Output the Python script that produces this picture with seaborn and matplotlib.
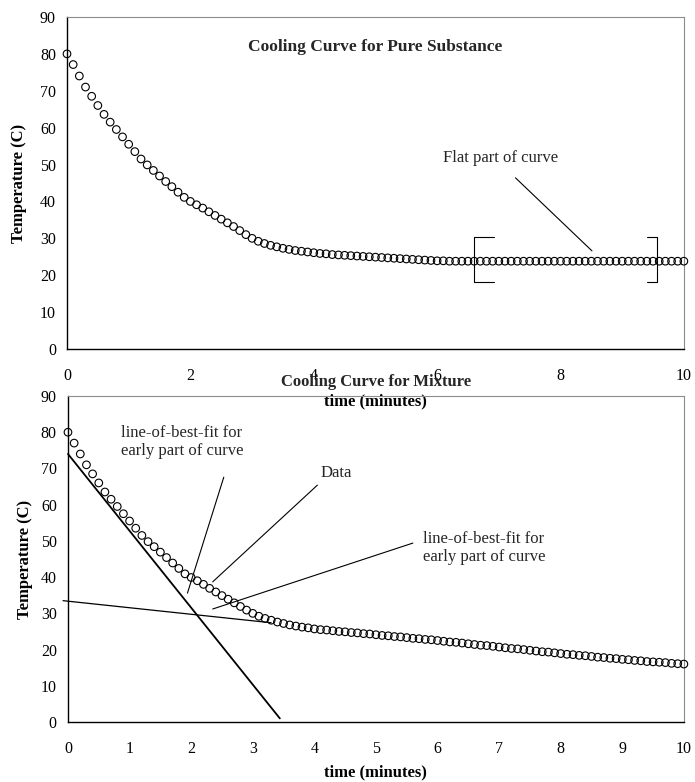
import numpy as np
import pandas as pd
import matplotlib
matplotlib.use("Agg")
import matplotlib.pyplot as plt
import seaborn as sns

# readings every 0.1 min, 0 to 10 min
time_min = np.round(np.linspace(0, 10, 101), 1)

# pure substance - levels off at about 23.8 C
pure_temp = [
    80.0, 77.1, 74.0, 71.0, 68.5, 66.0, 63.6, 61.5, 59.5, 57.5,
    55.5, 53.5, 51.5, 49.9, 48.4, 46.9, 45.4, 44.0, 42.5, 41.1,
    40.0, 39.1, 38.2, 37.2, 36.2, 35.2, 34.2, 33.2, 32.1, 31.0,
    30.0, 29.2, 28.6, 28.1, 27.7, 27.3, 27.0, 26.7, 26.5, 26.3,
    26.1, 25.9, 25.8, 25.6, 25.5, 25.4, 25.3, 25.2, 25.1, 25.0,
    24.9, 24.8, 24.7, 24.6, 24.5, 24.4, 24.3, 24.2, 24.1, 24.0,
    23.9, 23.9, 23.8, 23.8, 23.8, 23.8, 23.8, 23.8, 23.8, 23.8,
    23.8, 23.8, 23.8, 23.8, 23.8, 23.8, 23.8, 23.8, 23.8, 23.8,
    23.8, 23.8, 23.8, 23.8, 23.8, 23.8, 23.8, 23.8, 23.8, 23.8,
    23.8, 23.8, 23.8, 23.8, 23.8, 23.8, 23.8, 23.8, 23.8, 23.8,
    23.8,
]

# mixture - keeps falling slowly
mixture_temp = [
    80.0, 77.0, 74.0, 71.0, 68.5, 66.0, 63.5, 61.5, 59.5, 57.5,
    55.5, 53.5, 51.5, 49.8, 48.4, 46.9, 45.4, 43.9, 42.4, 40.9,
    39.9, 39.0, 38.0, 36.9, 35.9, 34.9, 33.9, 32.9, 31.9, 30.9,
    30.0, 29.2, 28.6, 28.1, 27.6, 27.2, 26.8, 26.5, 26.2, 26.0,
    25.7, 25.5, 25.4, 25.2, 25.0, 24.9, 24.7, 24.6, 24.4, 24.3,
    24.1, 23.9, 23.8, 23.6, 23.5, 23.3, 23.1, 23.0, 22.8, 22.7,
    22.5, 22.3, 22.1, 22.0, 21.8, 21.6, 21.4, 21.2, 21.1, 20.9,
    20.7, 20.5, 20.3, 20.2, 20.0, 19.8, 19.6, 19.4, 19.3, 19.1,
    18.9, 18.7, 18.6, 18.4, 18.3, 18.1, 17.9, 17.8, 17.6, 17.5,
    17.3, 17.2, 17.0, 16.9, 16.7, 16.6, 16.5, 16.4, 16.2, 16.1,
    16.0,
]

# hand-drawn best-fit lines on the mixture plot (end points)
steep_fit_t = [0.0, 3.44]
steep_fit_temp = [74.0, 1.0]
shallow_fit_t = [-0.08, 3.3]
shallow_fit_temp = [33.5, 27.4]

pure_df = pd.DataFrame({"time": time_min, "temp": pure_temp})
mix_df = pd.DataFrame({"time": time_min, "temp": mixture_temp})

sns.set_theme(style="white")
plt.rcParams["font.family"] = ["Liberation Serif", "DejaVu Serif"]
plt.rcParams["axes.unicode_minus"] = False

fig = plt.figure(figsize=(6.95, 7.82), dpi=100)
ax_top = fig.add_axes([0.0964, 0.5537, 0.8876, 0.4246])
ax_bot = fig.add_axes([0.0978, 0.0767, 0.8862, 0.4169])
# let the upper chart's x label show through the lower chart
ax_bot.patch.set_visible(False)

TICK_FS = 11.5
LABEL_FS = 12
NOTE_FS = 12


def style_axes(ax, xticks):
    ax.set_xlim(0, 10)
    ax.set_ylim(0, 90)
    ax.set_xticks(xticks)
    ax.set_yticks(range(0, 91, 10))
    for side in ["left", "bottom"]:
        ax.spines[side].set_color("black")
        ax.spines[side].set_linewidth(1.0)
    for side in ["top", "right"]:
        ax.spines[side].set_color("#8c8c8c")
        ax.spines[side].set_linewidth(0.8)
    ax.tick_params(axis="both", direction="out", length=4, width=0.8,
                   color="black", labelsize=TICK_FS, labelcolor="black")
    ax.tick_params(axis="x", pad=10)
    ax.tick_params(axis="y", pad=4)
    ax.set_ylabel("Temperature (C)", fontsize=LABEL_FS, fontweight="bold",
                  color="black")
    ax.set_xlabel("time (minutes)", fontsize=LABEL_FS, fontweight="bold",
                  color="black")
    ax.grid(False)


def draw_points(ax, df):
    pts = sns.scatterplot(data=df, x="time", y="temp", ax=ax, marker="o",
                          s=30, linewidth=0.8, clip_on=False, zorder=3)
    coll = pts.collections[-1]
    coll.set_facecolor("none")
    coll.set_edgecolor("black")


# ---- top: pure substance
draw_points(ax_top, pure_df)
style_axes(ax_top, range(0, 11, 2))
ax_top.yaxis.set_label_coords(-0.065, 0.5)
ax_top.xaxis.set_label_coords(0.5, -0.135)
ax_top.text(0.5, 0.911, "Cooling Curve for Pure Substance", transform=ax_top.transAxes,
            ha="center", va="center", fontsize=12.5, fontweight="bold")

ax_top.text(6.1, 51.8, "Flat part of curve", ha="left", va="center", fontsize=NOTE_FS)
ax_top.plot([7.27, 8.51], [46.4, 26.6], color="black", lw=0.8)
# brackets round the flat part
ax_top.plot([6.92, 6.6, 6.6, 6.92], [30.4, 30.4, 18.2, 18.2], color="black", lw=0.8)
ax_top.plot([9.41, 9.57, 9.57, 9.41], [30.4, 30.4, 18.2, 18.2], color="black", lw=0.8)

# ---- bottom: mixture
draw_points(ax_bot, mix_df)
sns.lineplot(x=steep_fit_t, y=steep_fit_temp, ax=ax_bot, color="black", lw=1.3,
             sort=False, zorder=2)
sns.lineplot(x=shallow_fit_t, y=shallow_fit_temp, ax=ax_bot, color="black", lw=0.9,
             sort=False, zorder=2)
for ln in ax_bot.lines:
    ln.set_clip_on(False)
style_axes(ax_bot, range(0, 11, 1))
ax_bot.yaxis.set_label_coords(-0.057, 0.5)
ax_bot.xaxis.set_label_coords(0.5, -0.129)
ax_bot.text(0.5, 1.043, "Cooling Curve for Mixture", transform=ax_bot.transAxes,
            ha="center", va="center", fontsize=LABEL_FS, fontweight="bold")

ax_bot.text(0.86, 77.3, "line-of-best-fit for\nearly part of curve", ha="left",
            va="center", fontsize=NOTE_FS, linespacing=1.15)
ax_bot.plot([2.53, 1.94], [67.6, 35.6], color="black", lw=0.8)
ax_bot.text(4.10, 68.7, "Data", ha="left", va="center", fontsize=NOTE_FS)
ax_bot.plot([4.05, 2.35], [65.4, 38.7], color="black", lw=0.8)
ax_bot.text(5.76, 48.0, "line-of-best-fit for\nearly part of curve", ha="left",
            va="center", fontsize=NOTE_FS, linespacing=1.15)
ax_bot.plot([5.60, 2.35], [49.4, 31.2], color="black", lw=0.8)

fig.savefig("out.png", dpi=100, facecolor="white")
